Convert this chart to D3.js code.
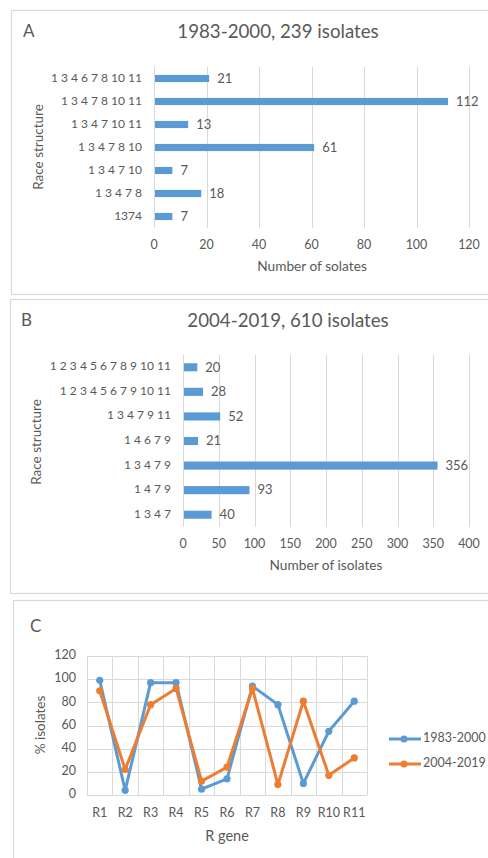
<!DOCTYPE html>
<html>
<head>
<meta charset="utf-8">
<script src="https://cdn.jsdelivr.net/npm/d3@7/dist/d3.min.js"></script>
<style>
  html, body { margin: 0; padding: 0; background: #fff; }
  svg { display: block; font-family: Lato, "Open Sans", sans-serif; }
  text { fill: #595959; }
</style>
</head>
<body>
<svg id="fig" width="488" height="858"></svg>
<script>
// Panel A: race structures 1983-2000
const racesA = ["1 3 4 6 7 8 10 11", "1 3 4 7 8 10 11", "1 3 4 7 10 11", "1 3 4 7 8 10", "1 3 4 7 10", "1 3 4 7 8", "1374"];
const countsA = [21, 112, 13, 61, 7, 18, 7];
const ticksA = [0, 20, 40, 60, 80, 100, 120];

// Panel B: race structures 2004-2019
const racesB = ["1 2 3 4 5 6 7 8 9 10 11", "1 2 3 4 5 6 7 9 10 11", "1 3 4 7 9 11", "1 4 6 7 9", "1 3 4 7 9", "1 4 7 9", "1 3 4 7"];
const countsB = [20, 28, 52, 21, 356, 93, 40];
const ticksB = [0, 50, 100, 150, 200, 250, 300, 350, 400];

// Panel C: virulence frequency per R gene
const genes = ["R1", "R2", "R3", "R4", "R5", "R6", "R7", "R8", "R9", "R10", "R11"];
const pct1983 = [99, 4, 97, 97, 5, 14, 94, 78, 10, 55, 81];
const pct2004 = [90, 22, 78, 92, 12, 24, 92, 9, 81, 17, 32];
const ticksC = [0, 20, 40, 60, 80, 100, 120];
const seriesNames = ["1983-2000", "2004-2019"];

const BLUE = "#5B9BD5", ORANGE = "#ED7D31", GRID = "#D9D9D9", BORDER = "#D9D9D9";

const svg = d3.select("#fig");

// panel frames
const frames = [
  { x: 11, y: 10, h: 284 },
  { x: 10, y: 299, h: 294 },
  { x: 13, y: 600, h: 270 }
];
frames.forEach(f => {
  svg.append("rect")
    .attr("x", f.x + 0.5).attr("y", f.y + 0.5)
    .attr("width", 500).attr("height", f.h)
    .attr("fill", "none").attr("stroke", BORDER).attr("stroke-width", 1.2);
});

function barPanel(o) {
  const g = svg.append("g");
  const x = d3.scaleLinear().domain([0, o.ticks[o.ticks.length - 1]]).range([o.x0, o.x1]);
  const y = d3.scaleBand().domain(o.cats).range([o.y0, o.y1]).paddingInner(o.pad).paddingOuter(o.pad / 2);

  // vertical gridlines
  g.append("g").selectAll("line").data(o.ticks).join("line")
    .attr("x1", d => Math.round(x(d)) + 0.5).attr("x2", d => Math.round(x(d)) + 0.5)
    .attr("y1", o.y0).attr("y2", o.y1)
    .attr("stroke", GRID).attr("stroke-width", 1);

  // x tick labels
  g.append("g").selectAll("text").data(o.ticks).join("text")
    .attr("x", d => x(d)).attr("y", o.tickY)
    .attr("text-anchor", "middle").attr("dominant-baseline", "middle")
    .attr("font-size", 12.5).text(d => d);

  // bars
  g.append("g").selectAll("rect").data(o.vals).join("rect")
    .attr("x", x(0) + 1)
    .attr("y", (d, i) => y(o.cats[i]))
    .attr("width", d => x(d) - x(0) - 1)
    .attr("height", y.bandwidth())
    .attr("fill", BLUE);

  // value labels
  g.append("g").selectAll("text").data(o.vals).join("text")
    .attr("x", d => x(d) + 8)
    .attr("y", (d, i) => y(o.cats[i]) + y.bandwidth() / 2 + 1)
    .attr("dominant-baseline", "middle").attr("font-size", 13)
    .text(d => d);

  // category labels
  g.append("g").selectAll("text").data(o.cats).join("text")
    .attr("x", o.x0 - 12)
    .attr("y", d => y(d) + y.bandwidth() / 2)
    .attr("text-anchor", "end").attr("dominant-baseline", "middle")
    .attr("font-size", 12).text(d => d);

  // axis titles
  g.append("text").attr("x", o.xTitleX).attr("y", o.xTitleY)
    .attr("text-anchor", "middle").attr("dominant-baseline", "middle")
    .attr("font-size", 13.7).text(o.xTitle);
  g.append("text")
    .attr("transform", `translate(${o.yTitleX},${o.yTitleY}) rotate(-90)`)
    .attr("text-anchor", "middle").attr("dominant-baseline", "middle")
    .attr("font-size", 13.5).text("Race structure");

  // panel title and letter
  g.append("text").attr("x", o.titleX).attr("y", o.titleY)
    .attr("text-anchor", "middle").attr("dominant-baseline", "middle")
    .attr("font-size", 18.7).text(o.title);
  g.append("text").attr("x", o.letterX).attr("y", o.titleY)
    .attr("dominant-baseline", "middle")
    .attr("font-size", 17).text(o.letter);
}

barPanel({
  cats: racesA, vals: countsA, ticks: ticksA,
  x0: 154, x1: 469, y0: 67, y1: 228, pad: 0.69,
  tickY: 246, xTitle: "Number of solates", xTitleX: 312, xTitleY: 268,
  yTitleX: 40, yTitleY: 147,
  title: "1983-2000, 239 isolates", titleX: 278, titleY: 33,
  letter: "A", letterX: 23
});

barPanel({
  cats: racesB, vals: countsB, ticks: ticksB,
  x0: 183, x1: 469, y0: 355, y1: 527, pad: 0.67,
  tickY: 545, xTitle: "Number of isolates", xTitleX: 326, xTitleY: 567,
  yTitleX: 38, yTitleY: 442,
  title: "2004-2019, 610 isolates", titleX: 288, titleY: 322,
  letter: "B", letterX: 21
});

// Panel C: line chart
(function () {
  const g = svg.append("g");
  const x0 = 87, x1 = 367, yTop = 656, yBot = 795;
  const x = d3.scaleBand().domain(genes).range([x0, x1]);
  const y = d3.scaleLinear().domain([0, 120]).range([yBot, yTop]);

  // horizontal gridlines
  g.append("g").selectAll("line").data(ticksC).join("line")
    .attr("x1", x0).attr("x2", x1)
    .attr("y1", d => Math.round(y(d)) + 0.5).attr("y2", d => Math.round(y(d)) + 0.5)
    .attr("stroke", GRID);
  // vertical gridlines at category boundaries
  const bounds = genes.map(d => x(d)).concat([x1]);
  g.append("g").selectAll("line").data(bounds).join("line")
    .attr("x1", d => Math.round(d) + 0.5).attr("x2", d => Math.round(d) + 0.5)
    .attr("y1", yTop).attr("y2", yBot)
    .attr("stroke", GRID);

  // y tick labels
  g.append("g").selectAll("text").data(ticksC).join("text")
    .attr("x", 76).attr("y", d => y(d))
    .attr("text-anchor", "end").attr("dominant-baseline", "middle")
    .attr("font-size", 12.5).text(d => d);
  // x tick labels
  g.append("g").selectAll("text").data(genes).join("text")
    .attr("x", d => x(d) + x.bandwidth() / 2).attr("y", 814)
    .attr("text-anchor", "middle").attr("dominant-baseline", "middle")
    .attr("font-size", 12.5).text(d => d);

  const line = d3.line()
    .x((d, i) => x(genes[i]) + x.bandwidth() / 2)
    .y(d => y(d));

  [[pct1983, BLUE], [pct2004, ORANGE]].forEach(([vals, col]) => {
    g.append("path").datum(vals).attr("d", line)
      .attr("fill", "none").attr("stroke", col)
      .attr("stroke-width", 3).attr("stroke-linejoin", "round");
    g.append("g").selectAll("circle").data(vals).join("circle")
      .attr("cx", (d, i) => x(genes[i]) + x.bandwidth() / 2)
      .attr("cy", d => y(d)).attr("r", 3.6).attr("fill", col);
  });

  // axis titles
  g.append("text").attr("x", 227).attr("y", 837)
    .attr("text-anchor", "middle").attr("dominant-baseline", "middle")
    .attr("font-size", 14.5).text("R gene");
  g.append("text")
    .attr("transform", "translate(42,725) rotate(-90)")
    .attr("text-anchor", "middle").attr("dominant-baseline", "middle")
    .attr("font-size", 13.5).text("% isolates");

  // panel letter
  g.append("text").attr("x", 30).attr("y", 628)
    .attr("dominant-baseline", "middle").attr("font-size", 17).text("C");

  // legend
  const leg = g.append("g").selectAll("g").data(seriesNames).join("g")
    .attr("transform", (d, i) => `translate(0,${739 + i * 25})`);
  leg.append("line").attr("x1", 389).attr("x2", 421).attr("y1", 0).attr("y2", 0)
    .attr("stroke", (d, i) => i ? ORANGE : BLUE).attr("stroke-width", 3);
  leg.append("circle").attr("cx", 404).attr("cy", 0).attr("r", 3.6)
    .attr("fill", (d, i) => i ? ORANGE : BLUE);
  leg.append("text").attr("x", 423).attr("y", 0)
    .attr("dominant-baseline", "middle").attr("font-size", 12.5).text(d => d);
})();
</script>
</body>
</html>
